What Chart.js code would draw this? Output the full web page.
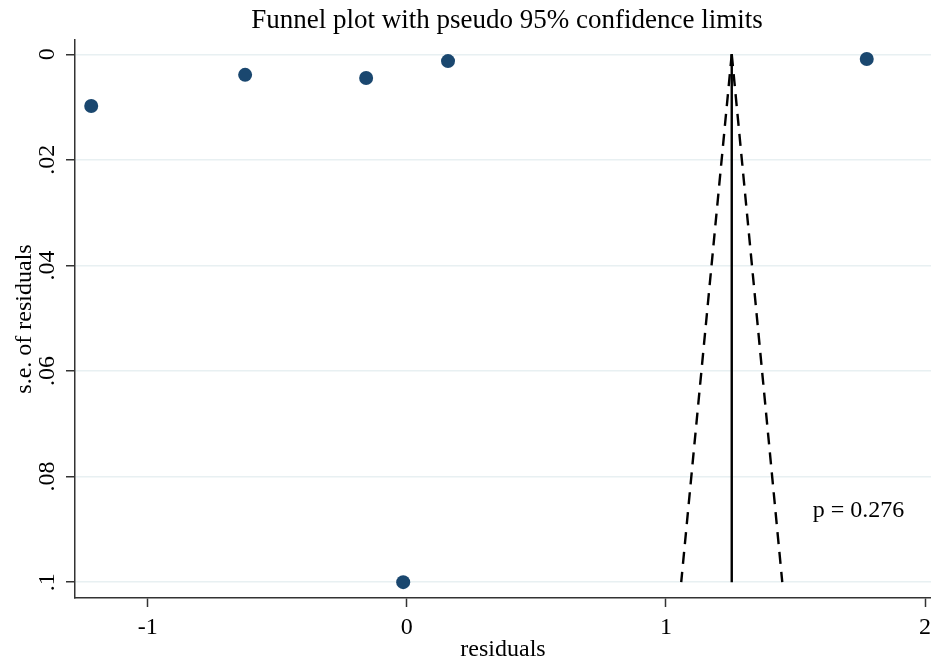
<!DOCTYPE html>
<html>
<head>
<meta charset="utf-8">
<script src="https://cdn.jsdelivr.net/npm/chart.js@4.4.1/dist/chart.umd.min.js"></script>
<style>
  html, body { margin: 0; padding: 0; background: #ffffff; }
  #wrap { width: 931px; height: 664px; position: relative; }
</style>
</head>
<body>
<div id="wrap"><canvas id="c" width="931" height="664"></canvas></div>
<script>
// ---- data ----
const residuals   = [-1.218, -0.624, -0.157, 0.159, -0.014, 1.775];
const seResiduals = [0.0098, 0.0039, 0.0045, 0.0013, 0.1000, 0.0009];
const funnelY       = [0, 0.1];
const funnelCenterX = [1.254, 1.254];
const funnelLowerX  = [1.254, 1.059];
const funnelUpperX  = [1.254, 1.449];
const xTicks = [-1, 0, 1, 2];
const xTickLabels = ['-1', '0', '1', '2'];
const yTicks = [0, 0.02, 0.04, 0.06, 0.08, 0.1];
const yTickLabels = ['0', '.02', '.04', '.06', '.08', '.1'];
const titleText = 'Funnel plot with pseudo 95% confidence limits';
const xTitle = 'residuals';
const yTitle = 's.e. of residuals';
const noteText = 'p = 0.276';
const notePos = { x: 1.743, y: 0.0864 };

const FONT = '"Liberation Serif", "Times New Roman", serif';
const pts = residuals.map((x, i) => ({ x: x, y: seResiduals[i] }));
const toXY = (xs, ys) => xs.map((x, i) => ({ x: x, y: ys[i] }));

const extras = {
  id: 'extras',
  afterDraw(chart) {
    const ctx = chart.ctx;
    const xs = chart.scales.x, ys = chart.scales.y;
    ctx.save();
    // title
    ctx.fillStyle = '#000';
    ctx.font = '27px ' + FONT;
    ctx.textAlign = 'center';
    ctx.textBaseline = 'middle';
    ctx.fillText(titleText, 507, 21);
    // y tick labels, rotated
    ctx.font = '24px ' + FONT;
    yTicks.forEach((v, i) => {
      const py = ys.getPixelForValue(v);
      ctx.save();
      ctx.translate(48, py);
      ctx.rotate(-Math.PI / 2);
      ctx.textAlign = 'center';
      ctx.textBaseline = 'middle';
      ctx.fillText(yTickLabels[i], 0, 0);
      ctx.restore();
    });
    // annotation
    ctx.font = '24px ' + FONT;
    ctx.textAlign = 'center';
    ctx.textBaseline = 'middle';
    ctx.fillText(noteText, xs.getPixelForValue(notePos.x), ys.getPixelForValue(notePos.y));
    ctx.restore();
  }
};

new Chart(document.getElementById('c'), {
  type: 'scatter',
  data: {
    datasets: [
      { data: toXY(funnelLowerX, funnelY), showLine: true, borderColor: '#000', borderWidth: 2.4,
        borderDash: [12, 8], pointRadius: 0, fill: false, order: 2 },
      { data: toXY(funnelUpperX, funnelY), showLine: true, borderColor: '#000', borderWidth: 2.4,
        borderDash: [12, 8], pointRadius: 0, fill: false, order: 2 },
      { data: toXY(funnelCenterX, funnelY), showLine: true, borderColor: '#000', borderWidth: 2.4,
        pointRadius: 0, fill: false, order: 2 },
      { data: pts, backgroundColor: '#1a476f', borderColor: '#1a476f', borderWidth: 0,
        pointRadius: 7, pointHoverRadius: 7, order: 1 }
    ]
  },
  options: {
    responsive: false,
    animation: false,
    devicePixelRatio: 1,
    layout: { autoPadding: false, padding: { top: 40, left: 0, right: 0, bottom: 0 } },
    plugins: { legend: { display: false }, tooltip: { enabled: false }, title: { display: false } },
    scales: {
      x: {
        type: 'linear',
        min: -1.2806, max: 2.023,
        afterBuildTicks: s => { s.ticks = xTicks.map(v => ({ value: v })); },
        afterFit: s => { s.height = 66; s.paddingLeft = 0; s.paddingRight = 0; },
        ticks: {
          callback: (v) => { const i = xTicks.indexOf(v); return i >= 0 ? xTickLabels[i] : ''; },
          font: { family: FONT, size: 24 }, color: '#000', padding: 6, maxRotation: 0, autoSkip: false
        },
        grid: { drawOnChartArea: false, drawTicks: true, tickLength: 9, tickColor: '#333', tickWidth: 1.5 },
        border: { display: true, color: '#333', width: 1.5 },
        title: { display: true, text: xTitle, font: { family: FONT, size: 24 }, color: '#000', padding: { top: 0, bottom: 0 } }
      },
      y: {
        type: 'linear',
        reverse: true,
        min: -0.0027, max: 0.103,
        afterBuildTicks: s => { s.ticks = yTicks.map(v => ({ value: v })); },
        afterFit: s => { s.width = 75; s.paddingTop = 0; s.paddingBottom = 0; },
        ticks: { display: false },
        grid: { color: '#e8f0f2', lineWidth: 1.5, drawTicks: true, tickLength: 9, tickColor: '#333', tickWidth: 1.5 },
        border: { display: true, color: '#333', width: 1.5 },
        title: { display: true, text: yTitle, font: { family: FONT, size: 24 }, color: '#000', padding: { top: 10, bottom: 0 } }
      }
    }
  },
  plugins: [extras]
});
</script>
</body>
</html>
